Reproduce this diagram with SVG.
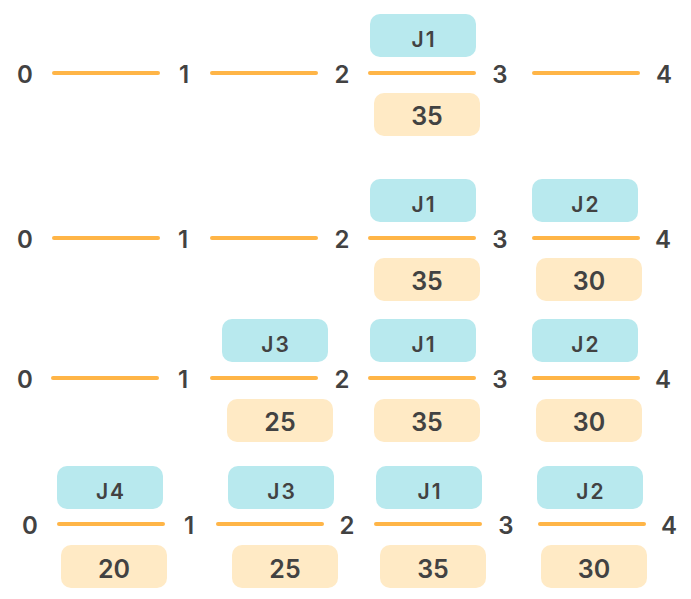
<svg xmlns="http://www.w3.org/2000/svg" width="691" height="599" viewBox="0 0 691 599">
<style>
.bg{fill:#ffffff}
.ln{stroke:#FFB547;stroke-width:4;stroke-linecap:round;fill:none}
.jb{fill:#B8E9EE}
.nb{fill:#FFEAC5}
.t{font-family:Inter,"Open Sans",sans-serif;font-weight:600;fill:#424242;text-anchor:middle}
.nd{font-size:24px}
.jl{font-size:21px;letter-spacing:2px}
.vl{font-size:25px}
</style>
<rect class="bg" x="0" y="0" width="691" height="599"/>
<g id="connectors">
<line class="ln" x1="54" y1="73" x2="158" y2="73"/>
<line class="ln" x1="212" y1="73" x2="316" y2="73"/>
<line class="ln" x1="370" y1="73" x2="474" y2="73"/>
<line class="ln" x1="534" y1="73" x2="638" y2="73"/>
<line class="ln" x1="54" y1="238" x2="158" y2="238"/>
<line class="ln" x1="212" y1="238" x2="316" y2="238"/>
<line class="ln" x1="370" y1="238" x2="474" y2="238"/>
<line class="ln" x1="534" y1="238" x2="638" y2="238"/>
<line class="ln" x1="53" y1="378" x2="157" y2="378"/>
<line class="ln" x1="212" y1="378" x2="316" y2="378"/>
<line class="ln" x1="370" y1="378" x2="474" y2="378"/>
<line class="ln" x1="534" y1="378" x2="638" y2="378"/>
<line class="ln" x1="59" y1="524" x2="163" y2="524"/>
<line class="ln" x1="218" y1="524" x2="322" y2="524"/>
<line class="ln" x1="376" y1="524" x2="480" y2="524"/>
<line class="ln" x1="540" y1="524" x2="644" y2="524"/>
</g>
<g id="row1">
<g id="r1-n0"><text class="t nd" x="25" y="82.5">0</text></g>
<g id="r1-n1"><text class="t nd" x="184" y="82.5">1</text></g>
<g id="r1-n2"><text class="t nd" x="342" y="82.5">2</text></g>
<g id="r1-n3"><text class="t nd" x="500" y="82.5">3</text></g>
<g id="r1-n4"><text class="t nd" x="664" y="82.5">4</text></g>
<g id="r1-J1"><rect class="jb" x="370" y="14" width="106" height="43" rx="10"/><text class="t jl" x="424" y="47">J1</text></g>
<g id="r1-35"><rect class="nb" x="374" y="93" width="106" height="43" rx="10"/><text class="t vl" x="427" y="125">35</text></g>
</g>
<g id="row2">
<g id="r2-n0"><text class="t nd" x="25" y="247.5">0</text></g>
<g id="r2-n1"><text class="t nd" x="183" y="247.5">1</text></g>
<g id="r2-n2"><text class="t nd" x="342" y="247.5">2</text></g>
<g id="r2-n3"><text class="t nd" x="500" y="247.5">3</text></g>
<g id="r2-n4"><text class="t nd" x="663" y="247.5">4</text></g>
<g id="r2-J1"><rect class="jb" x="370" y="179" width="106" height="43" rx="10"/><text class="t jl" x="424" y="212">J1</text></g>
<g id="r2-35"><rect class="nb" x="374" y="258" width="106" height="43" rx="10"/><text class="t vl" x="427" y="290">35</text></g>
<g id="r2-J2"><rect class="jb" x="532" y="179" width="106" height="43" rx="10"/><text class="t jl" x="586" y="212">J2</text></g>
<g id="r2-30"><rect class="nb" x="536" y="258" width="106" height="43" rx="10"/><text class="t vl" x="589" y="290">30</text></g>
</g>
<g id="row3">
<g id="r3-n0"><text class="t nd" x="25" y="387.5">0</text></g>
<g id="r3-n1"><text class="t nd" x="183" y="387.5">1</text></g>
<g id="r3-n2"><text class="t nd" x="342" y="387.5">2</text></g>
<g id="r3-n3"><text class="t nd" x="500" y="387.5">3</text></g>
<g id="r3-n4"><text class="t nd" x="663" y="387.5">4</text></g>
<g id="r3-J3"><rect class="jb" x="222" y="319" width="106" height="43" rx="10"/><text class="t jl" x="276" y="352">J3</text></g>
<g id="r3-25"><rect class="nb" x="227" y="399" width="106" height="43" rx="10"/><text class="t vl" x="280" y="431">25</text></g>
<g id="r3-J1"><rect class="jb" x="370" y="319" width="106" height="43" rx="10"/><text class="t jl" x="424" y="352">J1</text></g>
<g id="r3-35"><rect class="nb" x="374" y="399" width="106" height="43" rx="10"/><text class="t vl" x="427" y="431">35</text></g>
<g id="r3-J2"><rect class="jb" x="532" y="319" width="106" height="43" rx="10"/><text class="t jl" x="586" y="352">J2</text></g>
<g id="r3-30"><rect class="nb" x="536" y="399" width="106" height="43" rx="10"/><text class="t vl" x="589" y="431">30</text></g>
</g>
<g id="row4">
<g id="r4-n0"><text class="t nd" x="30" y="533.5">0</text></g>
<g id="r4-n1"><text class="t nd" x="189" y="533.5">1</text></g>
<g id="r4-n2"><text class="t nd" x="347" y="533.5">2</text></g>
<g id="r4-n3"><text class="t nd" x="506" y="533.5">3</text></g>
<g id="r4-n4"><text class="t nd" x="669" y="533.5">4</text></g>
<g id="r4-J4"><rect class="jb" x="57" y="466" width="106" height="43" rx="10"/><text class="t jl" x="111" y="498.5">J4</text></g>
<g id="r4-20"><rect class="nb" x="61" y="545" width="106" height="43" rx="10"/><text class="t vl" x="114" y="577.5">20</text></g>
<g id="r4-J3"><rect class="jb" x="228" y="466" width="106" height="43" rx="10"/><text class="t jl" x="282" y="498.5">J3</text></g>
<g id="r4-25"><rect class="nb" x="232" y="545" width="106" height="43" rx="10"/><text class="t vl" x="285" y="577.5">25</text></g>
<g id="r4-J1"><rect class="jb" x="376" y="466" width="106" height="43" rx="10"/><text class="t jl" x="430" y="498.5">J1</text></g>
<g id="r4-35"><rect class="nb" x="380" y="545" width="106" height="43" rx="10"/><text class="t vl" x="433" y="577.5">35</text></g>
<g id="r4-J2"><rect class="jb" x="537" y="466" width="106" height="43" rx="10"/><text class="t jl" x="591" y="498.5">J2</text></g>
<g id="r4-30"><rect class="nb" x="541" y="545" width="106" height="43" rx="10"/><text class="t vl" x="594" y="577.5">30</text></g>
</g>
</svg>
